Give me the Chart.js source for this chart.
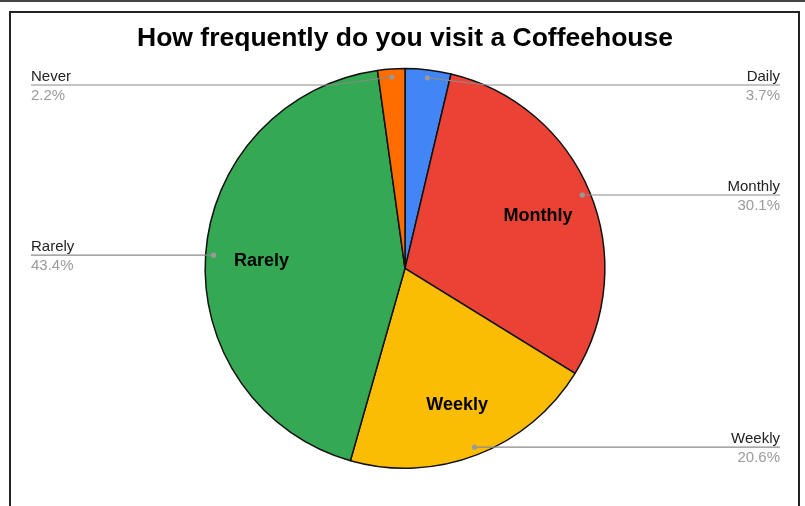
<!DOCTYPE html>
<html>
<head>
<meta charset="utf-8">
<script src="https://cdn.jsdelivr.net/npm/chart.js@4"></script>
<style>
    html, body { margin: 0; padding: 0; background: #fff; }
    #wrap { position: relative; width: 805px; height: 506px; overflow: hidden; }
    #topline { position: absolute; left: 0; top: 0; width: 805px; height: 2px; background: #444; }
    #frame {
        position: absolute; left: 9px; top: 11px; width: 787px; height: 500px;
        border: 2px solid #222; border-bottom: none;
    }
    canvas { position: absolute; left: 0; top: 0; }
</style>
</head>
<body>
<div id="wrap">
    <div id="topline"></div>
    <div id="frame"></div>
    <canvas id="pieChart" width="805" height="506"></canvas>
</div>
<script>
const categories = ['Daily', 'Monthly', 'Weekly', 'Rarely', 'Never'];
const shares = [3.7, 30.1, 20.6, 43.4, 2.2];
const colors = ['#4285F4', '#EA4335', '#FBBC04', '#34A853', '#FF6D01'];
// slices big enough to carry their name inside
const insideLabels = ['Monthly', 'Weekly', 'Rarely'];

const FONT = '"Liberation Sans", Arial, Helvetica, sans-serif';

// inner bold names + outside callouts with a dot and leader line
const calloutPlugin = {
    id: 'callouts',
    afterDraw(chart) {
        const ctx = chart.ctx;
        const meta = chart.getDatasetMeta(0);
        const leftX = 31, rightX = 780, minLineY = 85;
        ctx.save();
        meta.data.forEach((arc, i) => {
            const mid = (arc.startAngle + arc.endAngle) / 2;
            const r = arc.outerRadius;
            const cx = arc.x, cy = arc.y;

            // bold name inside the slice
            if (insideLabels.includes(categories[i])) {
                ctx.font = 'bold 18px ' + FONT;
                ctx.fillStyle = '#000';
                ctx.textAlign = 'center';
                ctx.textBaseline = 'middle';
                ctx.fillText(categories[i], cx + Math.cos(mid) * r * 0.72, cy + Math.sin(mid) * r * 0.72 + 3);
            }

            const dx = cx + Math.cos(mid) * r * 0.96;
            const dy = cy + Math.sin(mid) * r * 0.96;
            const right = Math.cos(mid) >= 0;
            const lineY = Math.max(dy, minLineY);
            const endX = right ? rightX : leftX;
            const bendX = dx + (right ? 60 : -60);

            ctx.strokeStyle = '#8a8a8a';
            ctx.lineWidth = 1.2;
            ctx.beginPath();
            ctx.moveTo(dx, dy);
            ctx.lineTo(bendX, lineY);
            ctx.lineTo(endX, lineY);
            ctx.stroke();

            ctx.fillStyle = '#9a9a9a';
            ctx.beginPath();
            ctx.arc(dx, dy, 2.6, 0, Math.PI * 2);
            ctx.fill();

            ctx.textAlign = right ? 'right' : 'left';
            ctx.font = '15px ' + FONT;
            ctx.fillStyle = '#222';
            ctx.textBaseline = 'alphabetic';
            ctx.fillText(categories[i], endX, lineY - 4);
            ctx.fillStyle = '#9b9b9b';
            ctx.textBaseline = 'top';
            ctx.fillText(shares[i].toFixed(1) + '%', endX, lineY + 3);
        });
        ctx.restore();
    }
};

new Chart(document.getElementById('pieChart').getContext('2d'), {
    type: 'pie',
    data: {
        labels: categories,
        datasets: [{
            data: shares,
            backgroundColor: colors,
            borderColor: '#111',
            borderWidth: 1.5
        }]
    },
    options: {
        responsive: false,
        animation: false,
        layout: { padding: { top: 0, bottom: 37, left: 5, right: 0 } },
        plugins: {
            legend: { display: false },
            tooltip: { enabled: false },
            title: {
                display: true,
                text: 'How frequently do you visit a Coffeehouse',
                color: '#000',
                font: { family: FONT, size: 26.5, weight: 'bold', lineHeight: 1.2 },
                padding: { top: 23, bottom: 13 }
            }
        }
    },
    plugins: [calloutPlugin]
});
</script>
</body>
</html>
